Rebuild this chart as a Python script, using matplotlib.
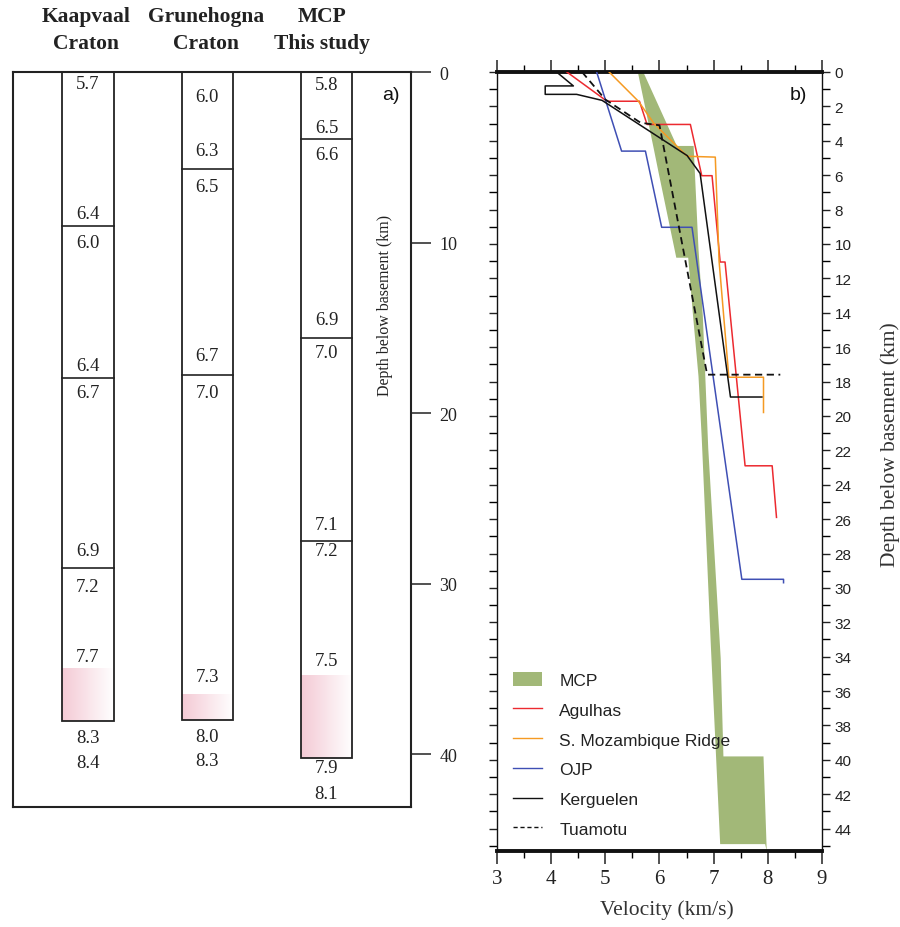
import matplotlib
matplotlib.use('Agg')
import matplotlib.pyplot as plt
import numpy as np
from matplotlib.patches import Rectangle, Polygon, Patch
from matplotlib.lines import Line2D
from matplotlib.colors import LinearSegmentedColormap
from matplotlib.ticker import MultipleLocator, FixedLocator

# ---------------- data: panel a (crustal columns) ----------------
col_names = ['Kaapvaal', 'Grunehogna', 'MCP']
col_subnames = ['Craton', 'Craton', 'This study']
col_bottom = [38.06, 38.0, 40.2]              # Moho depth (km)
col_mantle_top = [35.0, 36.5, 35.35]          # top of pink (transition) zone
col_boundaries = [[9.04, 17.94, 29.06], [5.7, 17.76], [3.94, 15.57, 27.5]]
kaap_labels = ['5.7', '6.4', '6.0', '6.4', '6.7', '6.9', '7.2', '7.7', '8.3', '8.4']
kaap_label_depth = [0.65, 8.27, 9.97, 17.24, 18.77, 28.04, 30.15, 34.25, 39.0, 40.47]
grun_labels = ['6.0', '6.3', '6.5', '6.7', '7.0', '7.3', '8.0', '8.3']
grun_label_depth = [1.41, 4.63, 6.69, 16.6, 18.77, 35.43, 38.94, 40.35]
mcp_labels = ['5.8', '6.5', '6.6', '6.9', '7.0', '7.1', '7.2', '7.5', '7.9', '8.1']
mcp_label_depth = [0.76, 3.23, 4.81, 14.49, 16.42, 26.51, 28.04, 34.49, 40.76, 42.29]

# ---------------- data: panel b (velocity profiles) ----------------
mcp_right_v = [5.70, 6.32, 6.63, 6.72, 6.80, 6.90, 7.13, 7.18, 7.92, 7.98, 7.95]
mcp_right_d = [0.0, 4.3, 4.3, 10.3, 14.2, 21.9, 34.1, 39.8, 39.8, 45.3, 44.9]
mcp_left_v = [5.60, 5.89, 5.98, 6.31, 6.53, 6.62, 6.72, 6.78, 6.95, 7.12]
mcp_left_d = [0.0, 4.4, 5.8, 10.8, 10.8, 14.2, 17.7, 21.3, 33.5, 44.9]

agulhas_v = [4.29, 5.03, 5.63, 5.77, 6.57, 6.78, 6.97, 7.12, 7.21, 7.58, 8.08, 8.16]
agulhas_d = [0.0, 1.7, 1.7, 3.05, 3.05, 6.03, 6.03, 11.05, 11.05, 22.9, 22.9, 25.9]
smoz_v = [5.07, 5.61, 5.90, 6.51, 7.03, 7.10, 7.28, 7.92, 7.92]
smoz_d = [0.0, 1.7, 3.0, 4.9, 4.95, 11.0, 17.75, 17.75, 19.8]
ojp_v = [4.84, 5.30, 5.74, 6.04, 6.60, 7.52, 8.29, 8.29]
ojp_d = [0.0, 4.6, 4.6, 9.03, 9.03, 29.5, 29.5, 29.7]
kerg_v = [4.10, 4.41, 3.89, 3.89, 4.47, 4.94, 6.51, 6.75, 7.31, 7.89]
kerg_d = [0.0, 0.81, 0.81, 1.30, 1.30, 1.65, 4.86, 5.9, 18.9, 18.9]
tuam_v = [4.57, 5.00, 5.65, 6.00, 6.88, 8.23]
tuam_d = [0.0, 1.6, 2.95, 3.1, 17.6, 17.6]

# ---------------- figure ----------------
W, H = 900, 928
fig = plt.figure(figsize=(9, 9.28), dpi=100)

def fx(px):
    return px / W

def fy(py):
    return 1 - py / H

serif = 'Liberation Serif'
sans = 'Liberation Sans'

# ---------------- panel a ----------------
axa = fig.add_axes([fx(13), fy(808), fx(411) - fx(13), fy(73) - fy(808)])
col_w = 0.428
pink_cmap = LinearSegmentedColormap.from_list('pk', ['#f4cad5', '#ffffff'])
grad = np.linspace(0, 1, 64).reshape(1, -1)
all_labels = [(kaap_labels, kaap_label_depth), (grun_labels, grun_label_depth),
              (mcp_labels, mcp_label_depth)]
for i in range(3):
    x0 = i - col_w / 2
    axa.imshow(grad, cmap=pink_cmap, aspect='auto',
               extent=[x0, x0 + col_w, col_bottom[i], col_mantle_top[i]], zorder=1)
    axa.add_patch(Rectangle((x0, 0), col_w, col_bottom[i], fill=False,
                            edgecolor='#222222', lw=1.3, zorder=3))
    for b in col_boundaries[i]:
        axa.plot([x0, x0 + col_w], [b, b], color='#222222', lw=1.2, zorder=3)
    labs, deps = all_labels[i]
    for t, d in zip(labs, deps):
        axa.text(i, d, t, ha='center', va='center', family=serif, fontsize=13.5,
                 color='#222222', zorder=4)

axa.set_xlim(-0.629, 2.709)
axa.set_ylim(43.1, 0)
for s in axa.spines.values():
    s.set_linewidth(1.5)
    s.set_color('#222222')
axa.set_xticks([])
axa.yaxis.tick_right()
axa.set_yticks([0, 10, 20, 30, 40])
axa.tick_params(axis='y', direction='out', length=14.5, width=1.1, pad=6,
                labelsize=13, colors='#222222')
for lab in axa.get_yticklabels():
    lab.set_family(serif)
fig.text(fx(385), fy(305), 'Depth below basement (km)', rotation=90, ha='center',
         va='center', family=serif, fontsize=11.5, color='#222222')
fig.text(fx(391), fy(96), 'a)', ha='center', va='center', family=sans,
         fontsize=14, color='#111111')

header_x = [86, 206, 322]
for i in range(3):
    fig.text(fx(header_x[i]), fy(17), col_names[i], ha='center', va='center',
             family=serif, fontweight='bold', fontsize=15.5, color='#222222')
    fig.text(fx(header_x[i]), fy(44), col_subnames[i], ha='center', va='center',
             family=serif, fontweight='bold', fontsize=15.5, color='#222222')

# ---------------- panel b ----------------
axb = fig.add_axes([fx(497), fy(852), fx(822) - fx(497), fy(73) - fy(852)])
green = '#a2b878'
poly_xy = list(zip(mcp_right_v, mcp_right_d)) + list(zip(mcp_left_v[::-1], mcp_left_d[::-1]))
axb.add_patch(Polygon(poly_xy, closed=True, facecolor=green, edgecolor='none', zorder=1))

lw = 1.1
axb.plot(agulhas_v, agulhas_d, color='#ec2a30', lw=lw, zorder=3)
axb.plot(smoz_v, smoz_d, color='#f59a23', lw=lw, zorder=3)
axb.plot(ojp_v, ojp_d, color='#3f4fb4', lw=lw, zorder=3)
axb.plot(kerg_v, kerg_d, color='#111111', lw=lw, zorder=4)
axb.plot(tuam_v, tuam_d, color='#111111', lw=1.3, dashes=(4, 2.5), zorder=4)

axb.set_xlim(3, 9)
axb.set_ylim(45.3, 0)
axb.spines['top'].set_linewidth(2.8)
axb.spines['bottom'].set_linewidth(2.8)
axb.spines['left'].set_linewidth(1.0)
axb.spines['right'].set_linewidth(1.0)
for s in axb.spines.values():
    s.set_color('#111111')

axb.xaxis.set_major_locator(MultipleLocator(1))
axb.xaxis.set_minor_locator(MultipleLocator(0.5))
axb.tick_params(axis='x', which='major', top=True, bottom=True, direction='out',
                length=9, width=1.1, labelsize=15, pad=4, colors='#222222')
axb.tick_params(axis='x', which='minor', top=True, bottom=True, direction='out',
                length=5, width=1.0)
for lab in axb.get_xticklabels():
    lab.set_family(serif)

axb.yaxis.set_major_locator(FixedLocator(np.arange(0, 45, 2)))
axb.yaxis.set_minor_locator(FixedLocator(np.arange(1, 46, 2)))
axb.tick_params(axis='y', which='both', left=True, right=True, labelleft=False,
                labelright=True, direction='out', length=6, width=1.0)
axb.tick_params(axis='y', which='major', labelsize=11, pad=3, colors='#222222')
for lab in axb.get_yticklabels():
    lab.set_family(sans)

fig.text(fx(890), fy(445), 'Depth below basement (km)', rotation=90, ha='center',
         va='center', family=serif, fontsize=15.5, color='#333333')
fig.text(fx(667), fy(910), 'Velocity (km/s)', ha='center', va='center',
         family=serif, fontsize=15.5, color='#333333')
fig.text(fx(798), fy(95), 'b)', ha='center', va='center', family=sans,
         fontsize=14, color='#111111')

handles = [Patch(facecolor=green, edgecolor='none'),
           Line2D([], [], color='#ec2a30', lw=1.0),
           Line2D([], [], color='#f59a23', lw=1.0),
           Line2D([], [], color='#3f4fb4', lw=1.0),
           Line2D([], [], color='#111111', lw=1.0),
           Line2D([], [], color='#111111', lw=1.0, dashes=(3, 2))]
labels = ['MCP', 'Agulhas', 'S. Mozambique Ridge', 'OJP', 'Kerguelen', 'Tuamotu']
leg = axb.legend(handles, labels, loc='upper left', bbox_to_anchor=(fx(513), fy(673)),
                 bbox_transform=fig.transFigure, frameon=False, borderpad=0,
                 borderaxespad=0, handlelength=1.67, handleheight=0.9,
                 handletextpad=1.0, labelspacing=0.78,
                 prop={'family': sans, 'size': 12.5})
for t in leg.get_texts():
    t.set_color('#222222')

fig.savefig('out.png', dpi=100)
